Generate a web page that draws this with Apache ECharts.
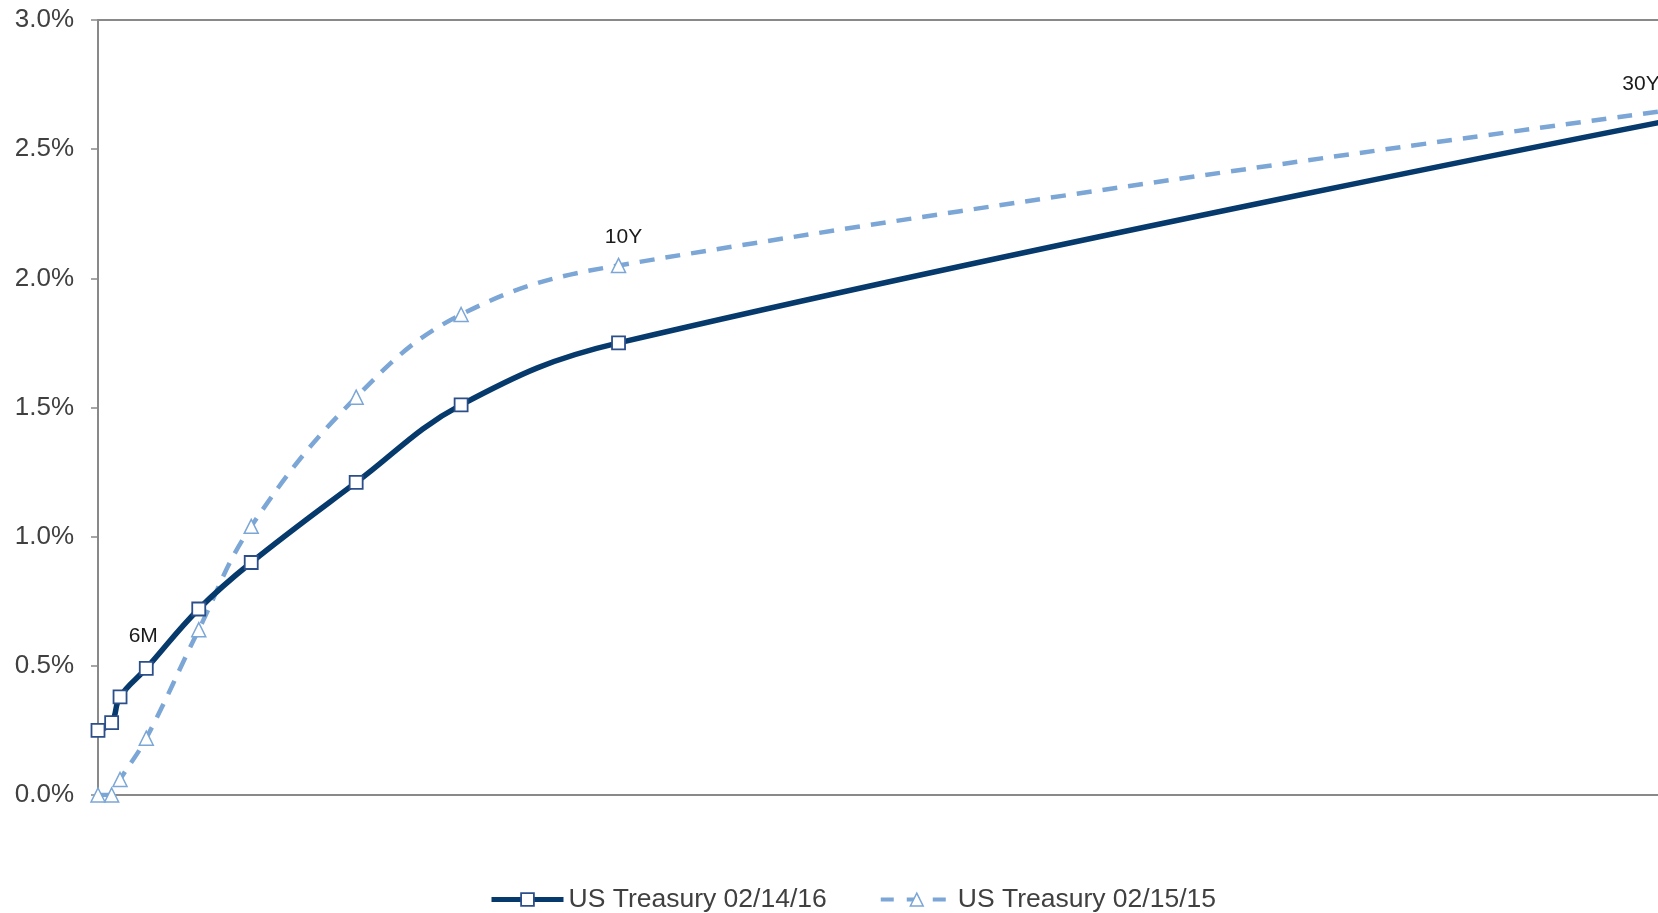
<!DOCTYPE html>
<html>
<head>
<meta charset="utf-8">
<title>US Treasury Yield Curve</title>
<script src="https://cdn.jsdelivr.net/npm/echarts@6/dist/echarts.min.js"></script>
<style>
  html, body { margin: 0; padding: 0; background: #ffffff; }
  #chart { width: 1658px; height: 913px; }
</style>
</head>
<body>
<div id="chart"></div>
<script>
// Maturity in years for each point on the curve
const maturities = [0.08, 0.34, 0.5, 1, 2, 3, 5, 7, 10, 30];
// Yields in percent
const yields2016 = [0.25, 0.28, 0.38, 0.49, 0.72, 0.90, 1.21, 1.51, 1.75, 2.61];
const yields2015 = [0.00, 0.00, 0.06, 0.22, 0.64, 1.04, 1.54, 1.86, 2.05, 2.65];
// Point annotations (empty = no label)
const labels2016 = ['', '', '', '6M', '', '', '', '', '', ''];
const labels2015 = ['', '', '', '', '', '', '', '', '10Y', '30Y'];
const seriesNames = ['US Treasury 02/14/16', 'US Treasury 02/15/15'];
const yTicks = { min: 0, max: 3, interval: 0.5 };

const FONT = "'Liberation Sans', Arial, sans-serif";
const AXIS_GREY = '#898989';
const NAVY = '#073a6c';
const NAVY_EDGE = '#2c4f8a';
const SKY = '#7ba6d6';
const DASH = [15, 11];

// Per-label placement tweaks
const labelPlacement = {
  '6M':  { distance: 14, offset: [-3, 0] },
  '10Y': { distance: 10, offset: [5, 0] },
  '30Y': { distance: 8, offset: [-27, 0] }
};

function buildData(values, labels) {
  return maturities.map((m, i) => {
    const item = { value: [m, values[i]] };
    if (labels[i]) {
      const p = labelPlacement[labels[i]] || {};
      item.label = {
        show: true,
        position: 'top',
        formatter: labels[i],
        distance: p.distance,
        offset: p.offset,
        fontSize: 21,
        fontFamily: FONT,
        color: '#1a1a1a'
      };
    }
    return item;
  });
}

const chart = echarts.init(document.getElementById('chart'), null, { renderer: 'canvas' });

chart.setOption({
  animation: false,
  backgroundColor: '#ffffff',
  // The plot runs a little past the right edge, so the 30Y point sits just outside the view
  grid: { left: 98, right: -10, top: 20, bottom: 118, containLabel: false, outerBoundsMode: 'none' },
  legend: {
    data: [
      {
        name: seriesNames[0],
        lineStyle: { color: NAVY, width: 5, type: 'solid' },
        itemStyle: { color: '#ffffff', borderColor: NAVY_EDGE, borderWidth: 1.8 }
      },
      {
        name: seriesNames[1],
        lineStyle: { color: SKY, width: 4, type: [13, 13] },
        itemStyle: { color: '#ffffff', borderColor: SKY, borderWidth: 1.5 }
      }
    ],
    left: 489,
    top: 886,
    padding: 0,
    itemWidth: 72,
    itemHeight: 16,
    itemGap: 52,
    selectedMode: false,
    textStyle: {
      fontFamily: FONT,
      fontSize: 26.5,
      color: '#404040'
    }
  },
  xAxis: [
    {
      type: 'value',
      min: 'dataMin',
      max: 30,
      axisLine: { show: true, lineStyle: { color: AXIS_GREY, width: 2 } },
      axisTick: { show: false },
      axisLabel: { show: false },
      splitLine: { show: false }
    },
    {
      type: 'value',
      position: 'top',
      min: 'dataMin',
      max: 30,
      axisLine: { show: true, onZero: false, lineStyle: { color: AXIS_GREY, width: 2 } },
      axisTick: { show: false },
      axisLabel: { show: false },
      splitLine: { show: false }
    }
  ],
  yAxis: {
    type: 'value',
    min: yTicks.min,
    max: yTicks.max,
    interval: yTicks.interval,
    axisLine: { show: true, lineStyle: { color: AXIS_GREY, width: 2 } },
    axisTick: { show: true, length: 7, lineStyle: { color: AXIS_GREY, width: 1.5 } },
    axisLabel: {
      formatter: v => v.toFixed(1) + '%',
      fontSize: 26,
      fontFamily: FONT,
      color: '#404040',
      margin: 24
    },
    splitLine: { show: false }
  },
  series: [
    {
      name: seriesNames[1],
      type: 'line',
      xAxisIndex: 0,
      data: buildData(yields2015, labels2015),
      smooth: 0.4,
      symbol: 'triangle',
      symbolSize: 14,
      lineStyle: { color: SKY, width: 4.5, type: DASH },
      itemStyle: { color: '#ffffff', borderColor: SKY, borderWidth: 1.5 },
      z: 2
    },
    {
      name: seriesNames[0],
      type: 'line',
      xAxisIndex: 0,
      data: buildData(yields2016, labels2016),
      smooth: 0.4,
      symbol: 'rect',
      symbolSize: 13,
      lineStyle: { color: NAVY, width: 5.5 },
      itemStyle: { color: '#ffffff', borderColor: NAVY_EDGE, borderWidth: 1.8 },
      z: 3
    }
  ]
});
</script>
</body>
</html>
